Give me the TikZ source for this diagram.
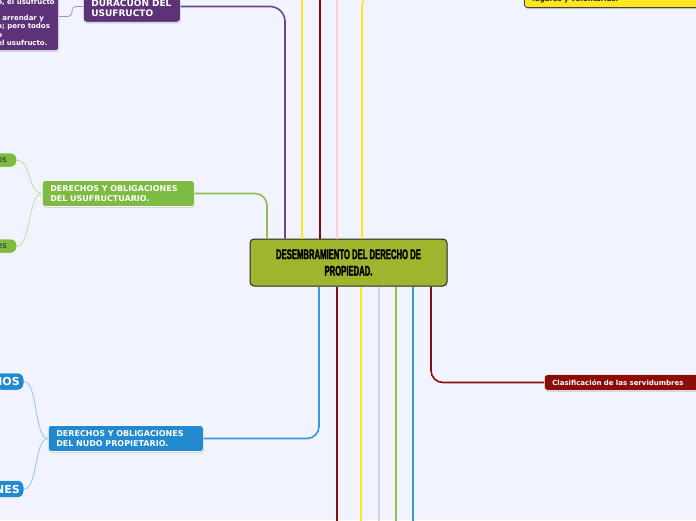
\documentclass[tikz,border=0pt]{standalone}
\usepackage{fontspec}
\setmainfont{DejaVu Sans}
\newfontfamily\headfont[FakeStretch=0.55,FakeBold=1.8]{Liberation Sans}
\definecolor{mmbg}{RGB}{241,244,254}
\definecolor{mmolive}{RGB}{160,181,46}
\definecolor{mmpurple}{RGB}{94,50,120}
\definecolor{mmpurpleln}{RGB}{106,74,142}
\definecolor{mmgreen}{RGB}{125,187,66}
\definecolor{mmgreenln}{RGB}{140,193,82}
\definecolor{mmblue}{RGB}{35,137,206}
\definecolor{mmblueln}{RGB}{52,152,219}
\definecolor{mmred}{RGB}{139,12,8}
\definecolor{mmyellow}{RGB}{255,230,30}
\definecolor{mmpink}{RGB}{255,204,213}
\definecolor{mmgray}{RGB}{212,212,218}
\usetikzlibrary{shadows,calc}

\begin{document}
\begin{tikzpicture}[x=1pt, y=-1pt, every node/.style={font=\fontsize{8}{10}\selectfont\bfseries},
  mainbox/.style={draw=black!85, line width=1pt, fill=mmolive, rounded corners=4pt, minimum width=197pt, minimum height=47pt, align=center, font=\headfont\bfseries\fontsize{14}{16.5}\selectfont},
  topic/.style={rounded corners=3pt, draw=white, line width=0.6pt, text=white, align=left, inner xsep=8pt, inner ysep=5pt, drop shadow={shadow xshift=0.6pt, shadow yshift=-1.6pt, opacity=0.25}},
  pill/.style={rounded corners=6pt, draw=white, line width=0.5pt, inner ysep=2pt},
  branch/.style={line width=1.6pt},
  twig/.style={line width=0.8pt}]
\useasboundingbox (0,0) rectangle (696,520);
\clip (0,0) rectangle (696,520);
\fill[mmbg] (0,0) rectangle (696,520);
% Central topic
\node[mainbox] (desmem) at (348.5,262.5) {DESEMBRAMIENTO DEL DERECHO DE\\PROPIEDAD.};
% Main branches
\node[topic, fill=mmpurple, font=\fontsize{9}{10.5}\selectfont\bfseries, anchor=west, text width=81pt] (duracion) at (83,6.5) {\mbox{}\\DURACUON DEL\\USUFRUCTO};
\node[topic, fill=mmpurple, font=\fontsize{7}{8.3}\selectfont\bfseries, anchor=east, inner xsep=4pt] (durtext) at (59,16.5) {\mbox{}\\\mbox{}\\o, el usufructo\\\mbox{}\\, arrendar y\\o; pero todos\\o\\el usufructo.};
\node[topic, fill=mmgreen, anchor=west, text width=136pt] (usufructuario) at (42,193.5) {DERECHOS Y OBLIGACIONES\\DEL USUFRUCTUARIO.};
\node[topic, fill=mmblue, anchor=west, text width=139pt] (nudo) at (48,438.5) {DERECHOS Y OBLIGACIONES\\DEL NUDO PROPIETARIO.};
\node[topic, fill=mmred, font=\fontsize{7}{9}\selectfont\bfseries, anchor=west, text width=150pt] (servid) at (544,382.5) {Clasificación de las servidumbres};
\node[topic, fill=mmyellow, draw=black!75, line width=0.8pt, text=black!85, font=\fontsize{7}{8.5}\selectfont\bfseries, anchor=south west, text width=190pt] (voluntarias) at (524,8) {\mbox{}\\\mbox{}\\lugares y voluntarias.};
% Sub topics
\node[pill, fill=mmgreen, text=black!85, font=\fontsize{8.5}{10}\selectfont, anchor=east, inner xsep=10pt, minimum height=14pt] (usosA) at (17,160) {os};
\node[pill, fill=mmgreen, text=black!85, font=\fontsize{8.5}{10}\selectfont, anchor=east, inner xsep=10pt, minimum height=14pt] (usosB) at (17,246) {es};
\node[pill, fill=mmblue, text=white, font=\fontsize{11}{12}\selectfont\bfseries, anchor=east, inner xsep=4pt, minimum height=17pt] (nudoA) at (24,381.5) {IOS};
\node[pill, fill=mmblue, text=white, font=\fontsize{11}{12}\selectfont\bfseries, anchor=east, inner xsep=4pt, minimum height=17pt] (nudoB) at (24,489) {NES};
% Branch connectors
\draw[branch, mmpurpleln, rounded corners=15pt] (duracion.east) -| ([xshift=-63.5pt]desmem.north);
\draw[branch, mmgreenln, rounded corners=12pt] (usufructuario.east) -| ([xshift=-81.5pt]desmem.north);
\draw[branch, mmblueln, rounded corners=12pt] (nudo.east) -| ([xshift=-29.5pt]desmem.south);
\draw[branch, mmred, rounded corners=12pt] (servid.west) -| ([xshift=82.5pt]desmem.south);
\draw[branch, mmyellow, rounded corners=12pt] (voluntarias.west) -| ([xshift=13.5pt]desmem.north);
% Branches leaving the view
\coordinate (upA) at (302,-4);
\coordinate (upB) at (320,-4);
\coordinate (upC) at (337,-4);
\draw[branch, mmyellow] (desmem.north -| upA) -- (upA);
\draw[branch, mmred] (desmem.north -| upB) -- (upB);
\draw[branch, mmpink] (desmem.north -| upC) -- (upC);
\coordinate (downA) at (337,524);
\coordinate (downB) at (361,524);
\coordinate (downC) at (379,524);
\coordinate (downD) at (396,524);
\coordinate (downE) at (413,524);
\draw[branch, mmred] (desmem.south -| downA) -- (downA);
\draw[branch, mmyellow] (desmem.south -| downB) -- (downB);
\draw[branch, mmgray] (desmem.south -| downC) -- (downC);
\draw[branch, mmgreenln] (desmem.south -| downD) -- (downD);
\draw[branch, mmblueln] (desmem.south -| downE) -- (downE);
% Sub topic connectors
\draw[twig, mmpurpleln!60, rounded corners=4pt] (duracion.west) -- ++(-11,0) |- (durtext.east);
\draw[twig, mmgreenln!55] (usufructuario.west) .. controls +(-14,0) and +(14,0) .. (usosA.east);
\draw[twig, mmgreenln!55] (usufructuario.west) .. controls +(-14,0) and +(14,0) .. (usosB.east);
\draw[twig, mmblueln!55] (nudo.west) .. controls +(-14,0) and +(14,0) .. (nudoA.east);
\draw[twig, mmblueln!55] (nudo.west) .. controls +(-14,0) and +(14,0) .. (nudoB.east);
\end{tikzpicture}
\end{document}
